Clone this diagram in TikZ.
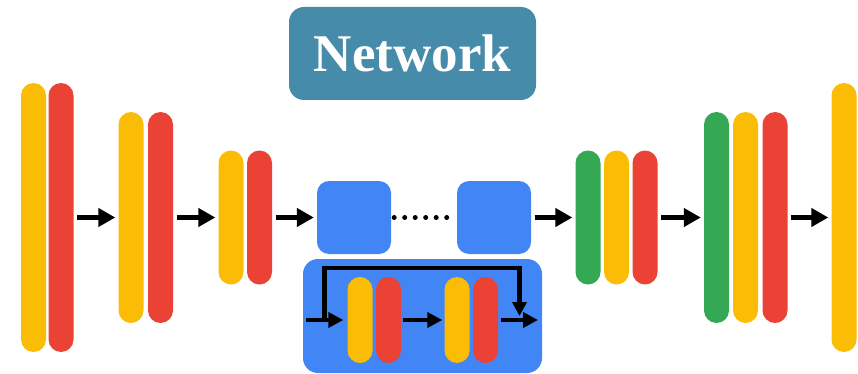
\documentclass[tikz,border=0pt]{standalone}
\usepackage{fontspec}
\setmainfont{Liberation Serif}
\usepackage{tikz}
\usetikzlibrary{arrows.meta,positioning}
\definecolor{cYellow}{HTML}{FBBC05}
\definecolor{cRed}{HTML}{EA4335}
\definecolor{cGreen}{HTML}{34A853}
\definecolor{cBlue}{HTML}{4285F4}
\definecolor{cTeal}{HTML}{468BA9}
\tikzset{
  bar/.style={fill=#1,draw=none,rounded corners=12.5pt,minimum width=25pt,inner sep=0pt},
  bar/.default=cYellow,
  blk/.style={fill=cBlue,draw=none,rounded corners=12pt,minimum width=74pt,minimum height=73pt,inner sep=0pt},
  arr/.style={-{Triangle[length=17pt,width=18pt]},line width=5.5pt,shorten <=3.5pt,shorten >=3pt},
  iarr/.style={-{Triangle[length=15pt,width=15pt]},line width=4.5pt},
  skip/.style={-{Triangle[length=14pt,width=14pt]},line width=4.5pt},
}
\begin{document}
\begin{tikzpicture}[x=1pt,y=-1pt]
        \useasboundingbox (0,0) rectangle (858,374);
        % title
        \node[fill=cTeal,rounded corners=15pt,minimum width=247pt,minimum height=93pt,text=white,font=\fontsize{53}{60}\selectfont\bfseries] (title) at (412.5,53.5) {Network};
        % encoder
        \node[bar=cYellow,minimum height=269pt] (y1) at (33.5,217.5) {};
        \node[bar=cRed,minimum height=269pt] (r1) at (61,217.5) {};
        \node[bar=cYellow,minimum height=211pt] (y2) at (131,217.5) {};
        \node[bar=cRed,minimum height=211pt] (r2) at (160.5,217.5) {};
        \node[bar=cYellow,minimum height=134pt] (y3) at (231,217.5) {};
        \node[bar=cRed,minimum height=134pt] (r3) at (259.5,217.5) {};
        % blocks
        \node[blk] (b1) at (354,217.5) {};
        \node[blk] (b2) at (494,217.5) {};
        \node[blk,minimum width=239pt,minimum height=114pt,rounded corners=15pt] (res) at (422.5,316) {};
        % decoder
        \node[bar=cGreen,minimum height=134pt] (g4) at (588,217.5) {};
        \node[bar=cYellow,minimum height=134pt] (y4) at (616.5,217.5) {};
        \node[bar=cRed,minimum height=134pt] (r4) at (645,217.5) {};
        \node[bar=cGreen,minimum height=211pt] (g5) at (716.5,217.5) {};
        \node[bar=cYellow,minimum height=211pt] (y5) at (745.5,217.5) {};
        \node[bar=cRed,minimum height=211pt] (r5) at (775,217.5) {};
        \node[bar=cYellow,minimum height=269pt] (y6) at (844,217.5) {};
        % residual block
        \node[bar=cYellow,minimum height=86pt] (yi1) at (360,320) {};
        \node[bar=cRed,minimum height=86pt] (ri1) at (388.5,320) {};
        \node[bar=cYellow,minimum height=86pt] (yi2) at (457,320) {};
        \node[bar=cRed,minimum height=86pt] (ri2) at (485.5,320) {};
        \coordinate (inA) at (306,320);
        \coordinate (outC) at (538,320);
        \coordinate (sk1) at (324.5,320);
        \coordinate (sktop) at (420,268);
        \coordinate (sk2) at (519.5,316);

        \draw[arr] (r1) -- (y2);
        \draw[arr] (r2) -- (y3);
        \draw[arr] (r3) -- (b1);
        \draw[arr] (b2) -- (g4);
        \draw[arr] (r4) -- (g5);
        \draw[arr] (r5) -- (y6);
        \draw[line width=5pt,line cap=round,dash pattern=on 0pt off 10.5pt,shorten <=3pt,shorten >=10pt] (b1) -- (b2);

        \draw[iarr,shorten >=4pt] (inA) -- (yi1);
        \draw[iarr,shorten <=2pt,shorten >=2pt] (ri1) -- (yi2);
        \draw[iarr,shorten <=3pt] (ri2) -- (outC);
        \draw[skip] (sk1) |- (sktop) -| (sk2);
      \end{tikzpicture}
\end{document}
